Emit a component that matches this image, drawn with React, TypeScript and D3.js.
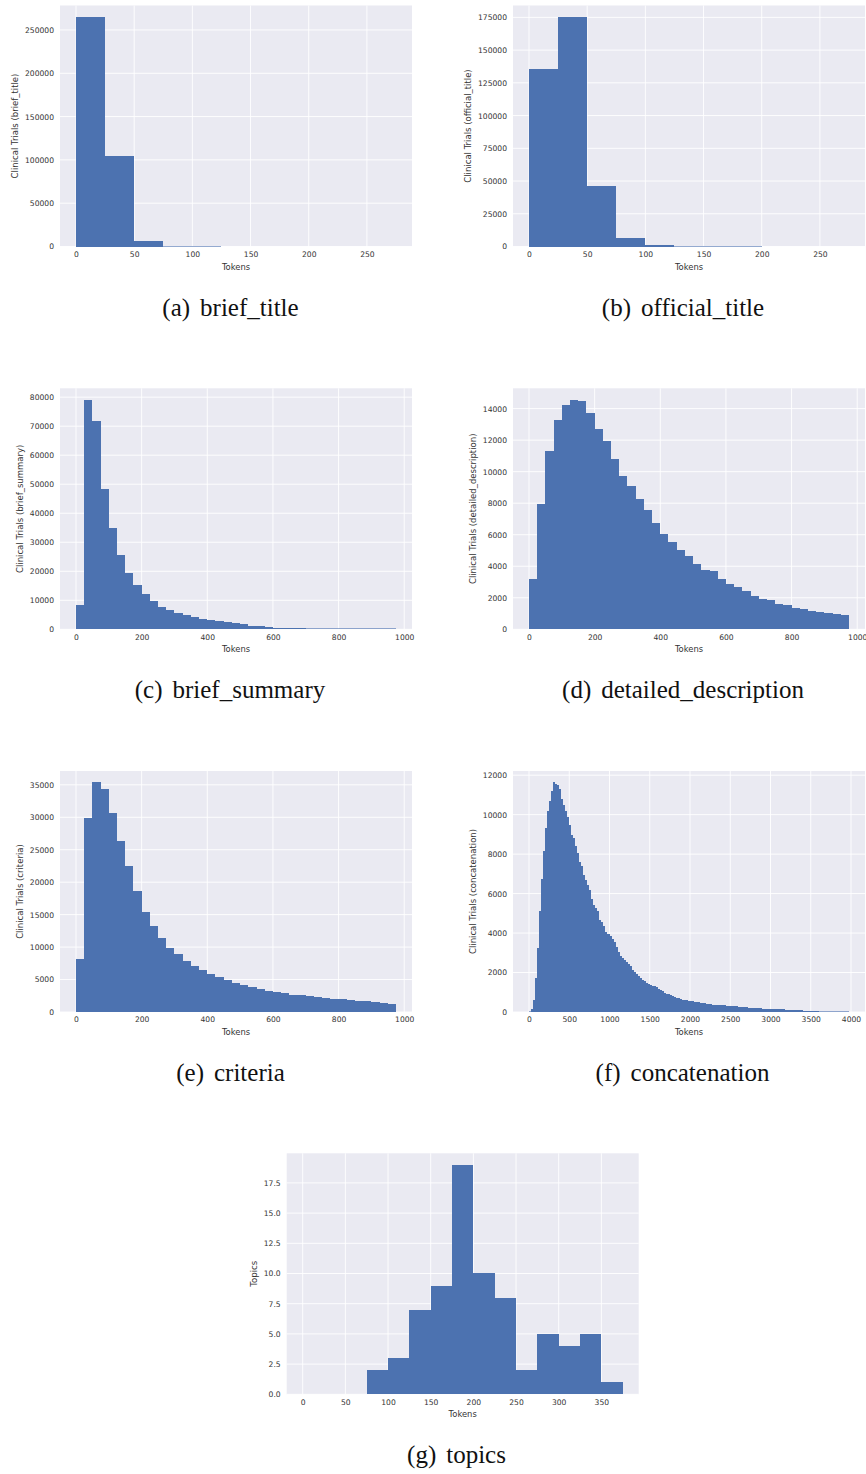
import React, { useRef, useEffect } from "react";
import * as d3 from "d3";

// all histograms use 25-token bins starting at 0
const BIN = 25;

const briefTitle = [265000, 104500, 6300, 900, 600, 80, 30, 15, 5, 3, 2];
const officialTitle = [135800, 175300, 46300, 6600, 1300, 500, 400, 300, 40, 10, 5];
const briefSummary = [
  8300, 79100, 71700, 48300, 34800, 25700, 19500, 15400, 12000, 9700,
  7700, 6500, 5600, 5000, 4400, 3700, 3300, 2800, 2500, 2100,
  1700, 1200, 1000, 800, 600, 500, 400, 350, 300, 200,
  180, 160, 150, 140, 130, 120, 110, 100, 100,
];
const detailedDescription = [
  3180, 7920, 11330, 13260, 14240, 14560, 14470, 13690, 12730, 11930,
  10800, 9750, 9090, 8280, 7580, 6760, 6060, 5530, 5060, 4620,
  4150, 3770, 3670, 3220, 2900, 2690, 2440, 2140, 1930, 1860,
  1630, 1550, 1360, 1290, 1140, 1100, 1060, 1000, 910,
];
const criteria = [
  8180, 29850, 35360, 34330, 30670, 26300, 22540, 18680, 15440, 13230,
  11430, 9930, 8900, 7820, 7150, 6430, 5870, 5400, 4990, 4430,
  4170, 3810, 3550, 3290, 3140, 2930, 2680, 2620, 2420, 2320,
  2210, 2060, 2010, 1800, 1750, 1650, 1490, 1390, 1290,
];
const concatenation = [
  50, 150, 600, 1700, 3260, 5140, 6730, 8150, 9330, 10170,
  10680, 11190, 11630, 11540, 11490, 11320, 10770, 10480, 10170, 9890,
  9460, 8990, 8820, 8420, 8080, 7600, 7390, 6960, 6710, 6460,
  6190, 5710, 5440, 5270, 5100, 4650, 4560, 4340, 4060, 3950,
  3840, 3700, 3550, 3300, 3040, 2820, 2740, 2650, 2540, 2450,
  2320, 2150, 2030, 1910, 1830, 1720, 1640, 1550, 1490, 1440,
  1390, 1340, 1300, 1250, 1180, 1120, 1050, 980, 930, 900,
  850, 790, 760, 730, 690, 660, 630, 610, 590, 575,
  560, 540, 520, 505, 490, 475, 455, 440, 420, 405,
  390, 380, 370, 360, 355, 345, 340, 335, 320, 310,
  300, 290, 285, 280, 270, 260, 250, 240, 230, 225,
  220, 210, 205, 195, 185, 180, 175, 170, 165, 160,
  160, 150, 145, 140, 135, 130, 140, 125, 115, 100,
  95, 90, 88, 85, 80, 78, 75, 70, 68, 65,
  60, 58, 55, 52, 50, 48, 45, 43, 40, 38,
  36, 34, 32, 30, 28, 27, 25, 24, 22,
];
const topics = [0, 0, 0, 2, 3, 7, 9, 19, 10, 8, 2, 5, 4, 5, 1];

const ticks250 = [0, 50, 100, 150, 200, 250];
const ticks1000 = [0, 200, 400, 600, 800, 1000];
const ticks4000 = [0, 500, 1000, 1500, 2000, 2500, 3000, 3500, 4000];
const ticks350 = [0, 50, 100, 150, 200, 250, 300, 350];

const yTicksBriefTitle = [0, 50000, 100000, 150000, 200000, 250000];
const yTicksOfficialTitle = [0, 25000, 50000, 75000, 100000, 125000, 150000, 175000];
const yTicksBriefSummary = [0, 10000, 20000, 30000, 40000, 50000, 60000, 70000, 80000];
const yTicksDetailed = [0, 2000, 4000, 6000, 8000, 10000, 12000, 14000];
const yTicksCriteria = [0, 5000, 10000, 15000, 20000, 25000, 30000, 35000];
const yTicksConcat = [0, 2000, 4000, 6000, 8000, 10000, 12000];
const yTicksTopics = [0, 2.5, 5, 7.5, 10, 12.5, 15, 17.5];

const panels = [
  { tag: "(a)", name: "brief_title", counts: briefTitle, xTicks: ticks250, yTicks: yTicksBriefTitle,
    ylabel: "Clinical Trials (brief_title)", left: 60, top: 5.5, cx: 230.5, capY: 316 },
  { tag: "(b)", name: "official_title", counts: officialTitle, xTicks: ticks250, yTicks: yTicksOfficialTitle,
    ylabel: "Clinical Trials (official_title)", left: 513, top: 5.5, cx: 683, capY: 316 },
  { tag: "(c)", name: "brief_summary", counts: briefSummary, xTicks: ticks1000, yTicks: yTicksBriefSummary,
    ylabel: "Clinical Trials (brief_summary)", left: 60, top: 388.3, cx: 230, capY: 698 },
  { tag: "(d)", name: "detailed_description", counts: detailedDescription, xTicks: ticks1000, yTicks: yTicksDetailed,
    ylabel: "Clinical Trials (detailed_description)", left: 513, top: 388.3, cx: 683, capY: 698 },
  { tag: "(e)", name: "criteria", counts: criteria, xTicks: ticks1000, yTicks: yTicksCriteria,
    ylabel: "Clinical Trials (criteria)", left: 60, top: 771, cx: 230.5, capY: 1081 },
  { tag: "(f)", name: "concatenation", counts: concatenation, xTicks: ticks4000, yTicks: yTicksConcat,
    ylabel: "Clinical Trials (concatenation)", left: 513, top: 771, cx: 682.5, capY: 1081 },
  { tag: "(g)", name: "topics", counts: topics, xTicks: ticks350, yTicks: yTicksTopics,
    ylabel: "Topics", left: 286.7, top: 1153.3, cx: 456.5, capY: 1463, decimals: true },
];

const W = 352;
const H = 241;
const BG = "#EAEAF2";
const BAR = "#4C72B0";
const TEXT = "#333333";
const SANS = "DejaVu Sans, sans-serif";

const drawPanel = (svg, p) => {
  const edges = d3.range(p.counts.length + 1).map((i) => i * BIN);
  const hi = edges[edges.length - 1];
  const pad = hi * 0.05;
  const x = d3.scaleLinear().domain([-pad, hi + pad]).range([0, W]);
  const y = d3.scaleLinear().domain([0, d3.max(p.counts) * 1.05]).range([H, 0]);

  const g = svg.append("g").attr("transform", `translate(${p.left},${p.top})`);
  g.append("rect").attr("width", W).attr("height", H).attr("fill", BG);

  // grid
  g.selectAll(".vgrid")
    .data(p.xTicks)
    .join("line")
    .attr("x1", (d) => x(d))
    .attr("x2", (d) => x(d))
    .attr("y1", 0)
    .attr("y2", H)
    .attr("stroke", "#fff")
    .attr("stroke-width", 0.9);
  g.selectAll(".hgrid")
    .data(p.yTicks)
    .join("line")
    .attr("x1", 0)
    .attr("x2", W)
    .attr("y1", (d) => y(d))
    .attr("y2", (d) => y(d))
    .attr("stroke", "#fff")
    .attr("stroke-width", 0.9);

  // bars - crisp edges so neighbouring bins don't leave seams;
  // sub-pixel bins get a faint 1px line, invisible ones are skipped
  g.append("g")
    .attr("shape-rendering", "crispEdges")
    .selectAll("rect")
    .data(
      p.counts
        .map((c, i) => ({ c, x0: edges[i], x1: edges[i + 1] }))
        .filter((d) => H - y(d.c) >= 0.25)
    )
    .join("rect")
    .attr("x", (d) => x(d.x0))
    .attr("width", (d) => x(d.x1) - x(d.x0))
    .attr("y", (d) => Math.min(y(d.c), H - 1))
    .attr("height", (d) => Math.max(H - y(d.c), 1))
    .attr("fill", BAR)
    .attr("fill-opacity", (d) => (H - y(d.c) < 1 ? 0.6 : 1));

  // axes
  const xAxis = g
    .append("g")
    .attr("transform", `translate(0,${H})`)
    .call(d3.axisBottom(x).tickValues(p.xTicks).tickSize(0).tickPadding(5).tickFormat(d3.format("d")));
  xAxis.select(".domain").remove();
  xAxis.selectAll("text").attr("font-family", SANS).attr("font-size", 7.6).attr("fill", TEXT);

  const yAxis = g
    .append("g")
    .call(
      d3.axisLeft(y)
        .tickValues(p.yTicks)
        .tickSize(0)
        .tickPadding(6)
        .tickFormat(p.decimals ? d3.format(".1f") : d3.format("d"))
    );
  yAxis.select(".domain").remove();
  yAxis.selectAll("text").attr("font-family", SANS).attr("font-size", 7.6).attr("fill", TEXT);

  g.append("text")
    .attr("x", W / 2)
    .attr("y", H + 23)
    .attr("text-anchor", "middle")
    .attr("font-family", SANS)
    .attr("font-size", 8.4)
    .attr("fill", TEXT)
    .text("Tokens");

  const bb = yAxis.node().getBBox();
  g.append("text")
    .attr("transform", `translate(${bb.x - 7.2},${H / 2}) rotate(-90)`)
    .attr("text-anchor", "middle")
    .attr("font-family", SANS)
    .attr("font-size", 8.5)
    .attr("fill", TEXT)
    .text(p.ylabel);

  // sub-caption
  const cap = svg
    .append("text")
    .attr("x", p.cx)
    .attr("y", p.capY)
    .attr("text-anchor", "middle")
    .attr("font-family", "Liberation Serif, serif")
    .attr("font-size", 25)
    .attr("fill", "#111");
  cap.append("tspan").text(p.tag);
  cap.append("tspan").attr("dx", 10).text(p.name);
};

const App = () => {
  const svgRef = useRef(null);

  useEffect(() => {
    const svg = d3.select(svgRef.current);
    svg.selectAll("*").remove();
    panels.forEach((p) => drawPanel(svg, p));
  }, []);

  return (
    <svg
      ref={svgRef}
      width={866}
      height={1474}
      style={{ position: "absolute", left: 0, top: 0, background: "#fff" }}
    ></svg>
  );
};

export default App;
